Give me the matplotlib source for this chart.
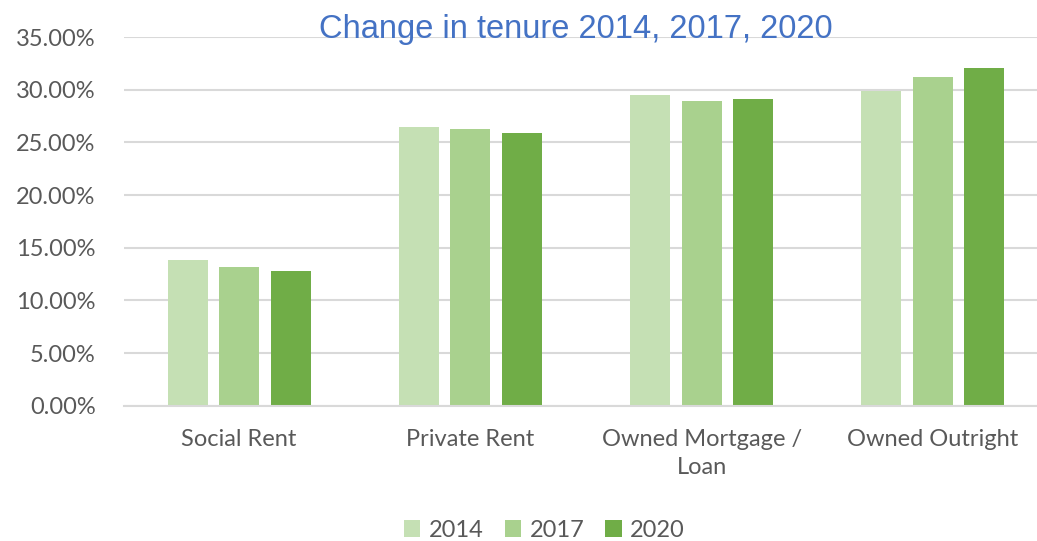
import numpy as np
import matplotlib.pyplot as plt
from matplotlib.ticker import FuncFormatter

categories = ["Social Rent", "Private Rent", "Owned Mortgage /\nLoan", "Owned Outright"]
years = ["2014", "2017", "2020"]
share_2014 = [13.85, 26.5, 29.5, 29.9]
share_2017 = [13.2, 26.3, 28.9, 31.2]
share_2020 = [12.8, 25.9, 29.1, 32.1]
colors = ["#C5E0B4", "#A9D18E", "#70AD47"]

fig = plt.figure(figsize=(10.37, 5.41), dpi=100)
ax = fig.add_axes([0.1191, 0.25, 0.892, 0.6816])

x = np.arange(len(categories))
width = 0.173
step = 0.223
for i, (vals, year) in enumerate(zip([share_2014, share_2017, share_2020], years)):
    ax.bar(x + (i - 1) * step, vals, width, color=colors[i], label=year, zorder=2)

ax.set_xlim(-0.5, len(categories) - 0.5)
ax.set_ylim(0, 35)
ax.set_yticks(np.arange(0, 36, 5))
ax.yaxis.set_major_formatter(FuncFormatter(lambda v, p: f"{v:.2f}%"))
ax.set_xticks(x)
ax.set_xticklabels(categories, linespacing=1.4)
ax.grid(axis="y", color="#D9D9D9", linewidth=1.5, zorder=0)
for side in ["top", "right", "left"]:
    ax.spines[side].set_visible(False)
ax.spines["bottom"].set_color("#D9D9D9")
ax.spines["bottom"].set_linewidth(1.5)
ax.tick_params(axis="both", length=0, labelsize=17, labelcolor="#595959")
ax.tick_params(axis="x", pad=17)
ax.tick_params(axis="y", pad=20)
for lab in ax.get_xticklabels() + ax.get_yticklabels():
    lab.set_family("Lato")

fig.text(0.555, 0.946, "Change in tenure 2014, 2017, 2020", ha="center", va="center",
         fontsize=23.5, color="#4472C4", family="Liberation Sans")

fig.legend(loc="center", bbox_to_anchor=(0.525, 0.02), ncol=3, frameon=False,
           prop={"family": "Lato", "size": 17}, labelcolor="#595959",
           handlelength=0.7, handleheight=0.7, handletextpad=0.35, columnspacing=0.9)

fig.savefig("out.png", dpi=100)
